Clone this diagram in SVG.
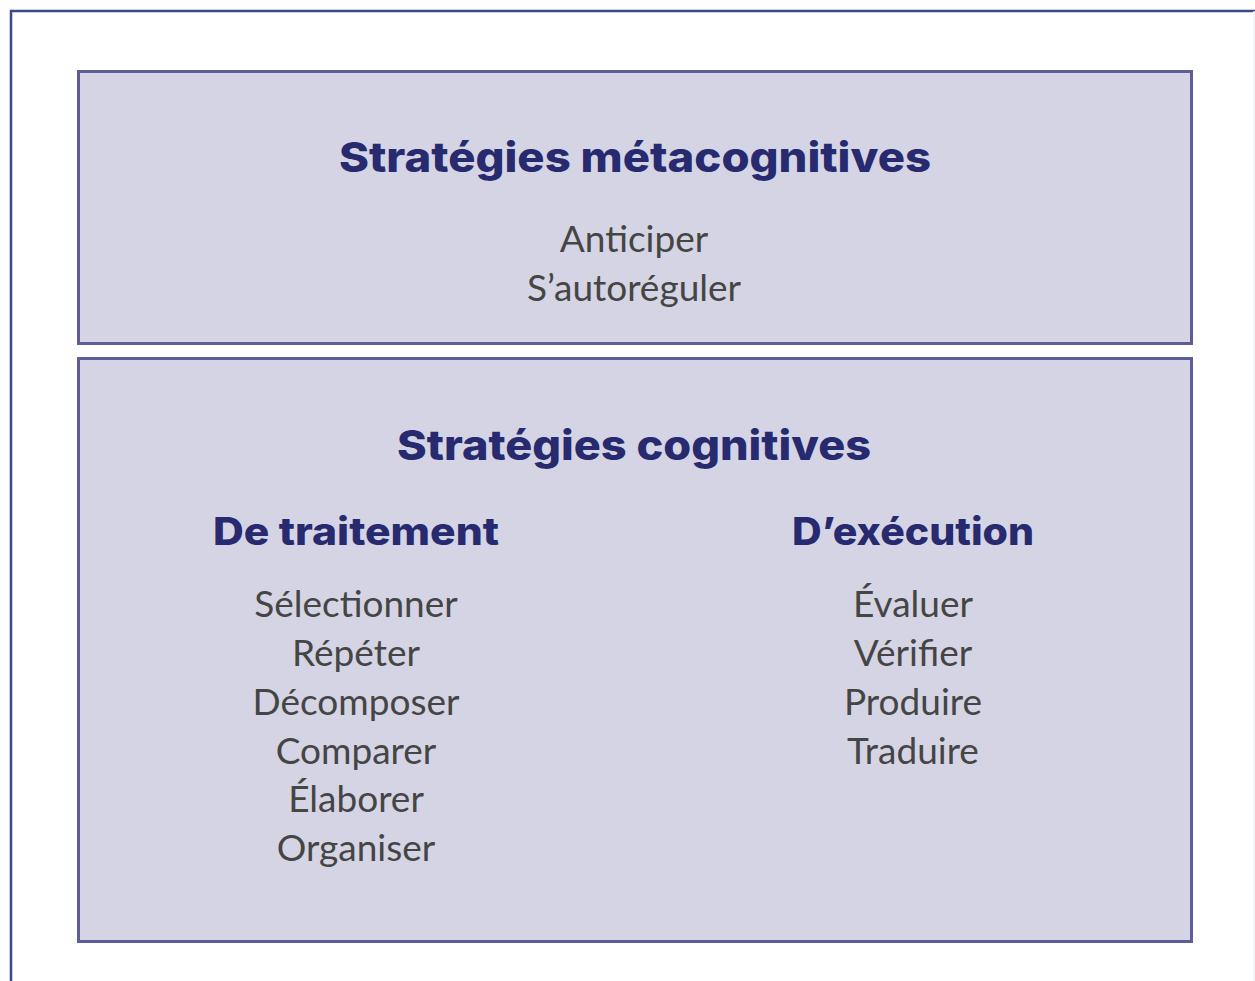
<svg xmlns="http://www.w3.org/2000/svg" width="1255" height="981" viewBox="0 0 1255 981">
<style>
.box{fill:#d5d4e4;stroke:#5e5c99;stroke-width:3}
.h{font-family:Inter,"Open Sans","DejaVu Sans",sans-serif;font-weight:800;fill:#272a6f;text-anchor:middle}
.t{font-family:Lato,"Liberation Sans",sans-serif;font-size:37px;fill:#454545;text-anchor:middle}
</style>
<rect width="1255" height="981" fill="#ffffff"/>
<g id="frame">
<path d="M11 981 V11 H1255" fill="none" stroke="#3a4886" stroke-width="2.5"/>
<line x1="1254" y1="11" x2="1254" y2="981" stroke="#eef0f4" stroke-width="1.5"/>
</g>
<g id="meta">
<rect class="box" x="78.5" y="71.5" width="1113" height="272"/>
<text class="h" x="635" y="172" font-size="41" textLength="592" lengthAdjust="spacingAndGlyphs">Stratégies métacognitives</text>
<text class="t" x="634" y="252">Anticiper</text>
<text class="t" x="634" y="301">S’autoréguler</text>
</g>
<g id="cog">
<rect class="box" x="78.5" y="358.5" width="1113" height="583"/>
<text class="h" x="634" y="460" font-size="41" textLength="474" lengthAdjust="spacingAndGlyphs">Stratégies cognitives</text>
</g>
<g id="traitement">
<text class="h" x="356" y="545" font-size="38" textLength="286" lengthAdjust="spacingAndGlyphs">De traitement</text>
<text class="t" x="356" y="617">Sélectionner</text>
<text class="t" x="356" y="666">Répéter</text>
<text class="t" x="356" y="715">Décomposer</text>
<text class="t" x="356" y="764">Comparer</text>
<text class="t" x="356" y="812">Élaborer</text>
<text class="t" x="356" y="861">Organiser</text>
</g>
<g id="execution">
<text class="h" x="913" y="545" font-size="38" textLength="242" lengthAdjust="spacingAndGlyphs">D’exécution</text>
<text class="t" x="913" y="617">Évaluer</text>
<text class="t" x="913" y="666">Vérifier</text>
<text class="t" x="913" y="715">Produire</text>
<text class="t" x="913" y="764">Traduire</text>
</g>
</svg>
